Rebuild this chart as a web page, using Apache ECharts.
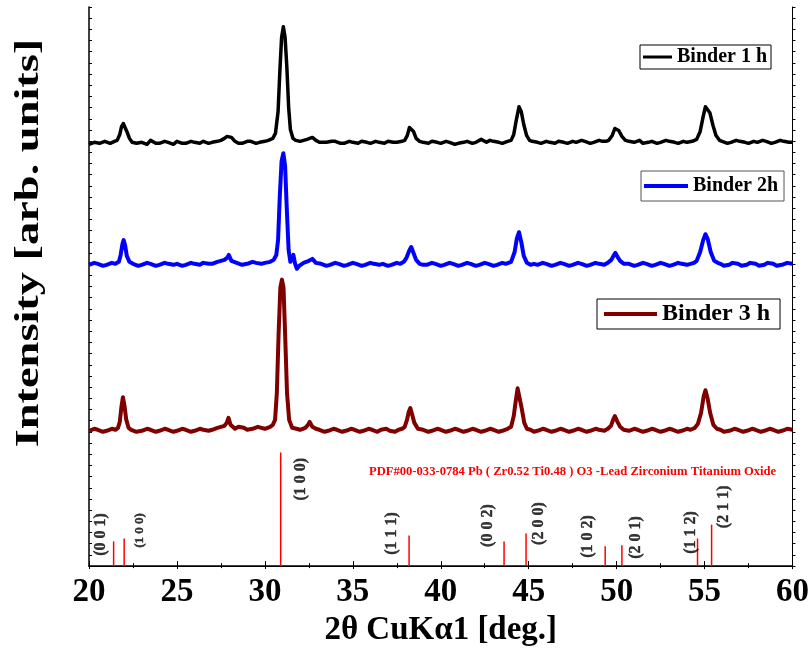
<!DOCTYPE html>
<html><head><meta charset="utf-8">
<script src="https://cdn.jsdelivr.net/npm/echarts@6/dist/echarts.min.js"></script>
<style>html,body{margin:0;padding:0;background:#fff}#c{width:812px;height:652px}</style>
</head><body><div id="c"></div>
<script>
// ---- data (2θ, intensity in arbitrary units with offset baked in) ----
const binder1h = [[20,427],[20.3,429],[20.6,428],[20.9,430],[21.2,428],[21.45,430],[21.6,431],[21.75,437],[21.85,445],[21.95,448],[22.05,446],[22.15,440],[22.3,433],[22.45,429],[22.7,428],[23,429],[23.3,427],[23.5,431],[23.8,428],[24,428],[24.3,430],[24.5,429],[24.8,427],[25,430],[25.3,428],[25.5,428],[25.8,430],[26,429],[26.3,428],[26.5,430],[26.8,428],[27,429],[27.3,430],[27.5,431],[27.7,433],[27.85,435],[27.95,436],[28.1,434],[28.3,430],[28.5,428],[28.7,428],[29,430],[29.2,430],[29.5,428],[29.7,429],[30,430],[30.2,431],[30.45,433],[30.6,438],[30.75,460],[30.85,500],[30.95,535],[31.05,546],[31.15,535],[31.25,505],[31.35,465],[31.45,442],[31.6,433],[31.75,431],[32,430],[32.2,431],[32.4,432],[32.7,434],[32.9,431],[33.1,429],[33.5,429],[33.8,430],[34,430],[34.3,428],[34.5,428],[34.8,430],[35,429],[35.3,428],[35.5,430],[35.8,429],[36,428],[36.3,430],[36.5,429],[36.8,428],[37,430],[37.3,429],[37.5,429],[37.8,430],[37.95,431],[38.1,436],[38.22,444],[38.32,446],[38.45,440],[38.6,433],[38.8,430],[39,429],[39.3,428],[39.5,430],[39.8,429],[40,428],[40.3,430],[40.5,429],[40.8,427],[41,428],[41.3,429],[41.5,430],[41.8,428],[42,429],[42.3,432],[42.6,429],[42.8,431],[43,430],[43.3,429],[43.5,428],[43.8,430],[44,431],[44.15,437],[44.3,452],[44.45,465],[44.58,460],[44.72,447],[44.88,436],[45.05,431],[45.2,430],[45.5,429],[45.7,428],[46,430],[46.2,429],[46.5,428],[46.7,430],[47,429],[47.2,428],[47.5,430],[47.7,429],[48,431],[48.2,430],[48.5,428],[48.7,429],[49,431],[49.2,430],[49.4,430],[49.55,431],[49.75,436],[49.9,443],[50,444],[50.12,441],[50.3,435],[50.5,431],[50.7,430],[51,429],[51.3,431],[51.5,428],[51.8,429],[52,430],[52.3,428],[52.5,429],[52.8,431],[53,430],[53.3,429],[53.5,428],[53.8,430],[54,429],[54.3,430],[54.55,432],[54.75,440],[54.92,455],[55.05,465],[55.15,466],[55.3,459],[55.48,446],[55.65,436],[55.85,431],[56,430],[56.3,428],[56.5,429],[56.8,431],[57,430],[57.3,429],[57.5,428],[57.8,430],[58,429],[58.3,431],[58.5,430],[58.8,428],[59,429],[59.3,431],[59.5,430],[59.8,429],[60,429]];

const binder2h = [[20,305],[20.3,307],[20.5,306],[20.8,304],[21,305],[21.3,307],[21.5,306],[21.7,308],[21.8,315],[21.9,326],[21.97,330],[22.05,325],[22.15,314],[22.3,308],[22.5,306],[22.8,304],[23,305],[23.3,307],[23.5,306],[23.8,304],[24,305],[24.3,307],[24.5,306],[24.8,305],[25,306],[25.3,304],[25.5,305],[25.8,307],[26,306],[26.3,305],[26.5,307],[26.8,306],[27,306],[27.3,308],[27.5,309],[27.7,310],[27.85,312],[27.95,315],[28.1,309],[28.4,307],[28.7,305],[29,306],[29.3,308],[29.5,307],[29.8,306],[30,307],[30.3,308],[30.5,310],[30.65,315],[30.75,330],[30.85,375],[30.95,410],[31.05,418],[31.15,405],[31.25,360],[31.35,320],[31.45,308],[31.55,312],[31.62,315],[31.72,306],[31.82,301],[31.95,304],[32.2,307],[32.5,309],[32.7,311],[32.9,307],[33.2,306],[33.5,304],[33.7,305],[34,307],[34.2,306],[34.5,304],[34.7,305],[35,307],[35.2,306],[35.5,304],[35.7,305],[36,307],[36.2,306],[36.5,305],[36.7,306],[37,304],[37.2,305],[37.5,307],[37.7,306],[37.9,308],[38.05,312],[38.2,319],[38.32,323],[38.45,317],[38.6,310],[38.8,306],[39,305],[39.2,305],[39.5,307],[39.7,306],[40,304],[40.2,305],[40.5,307],[40.7,306],[41,304],[41.2,305],[41.5,307],[41.7,306],[42,304],[42.2,305],[42.5,307],[42.7,306],[43,304],[43.2,305],[43.5,307],[43.7,306],[43.85,307],[44,308],[44.2,318],[44.33,332],[44.45,338],[44.58,328],[44.72,314],[44.9,307],[45.1,305],[45.3,306],[45.5,305],[45.8,307],[46,306],[46.3,304],[46.5,305],[46.8,307],[47,306],[47.3,304],[47.5,305],[47.8,307],[48,306],[48.3,304],[48.5,305],[48.8,307],[49,306],[49.3,305],[49.5,307],[49.7,310],[49.82,314],[49.93,317],[50.05,313],[50.2,309],[50.4,306],[50.7,306],[51,304],[51.2,305],[51.5,307],[51.7,306],[52,304],[52.2,305],[52.5,307],[52.7,306],[53,304],[53.2,305],[53.5,307],[53.7,306],[54,305],[54.2,306],[54.4,307],[54.55,309],[54.75,318],[54.92,330],[55.05,336],[55.18,331],[55.35,318],[55.55,309],[55.75,307],[55.9,306],[56.1,304],[56.4,305],[56.6,307],[56.9,306],[57.1,304],[57.4,305],[57.6,307],[57.9,306],[58.1,304],[58.4,305],[58.6,307],[58.9,306],[59.1,304],[59.4,305],[59.7,307],[60,306]];

const binder3h = [[20,137],[20.3,139],[20.5,138],[20.8,136],[21,137],[21.3,139],[21.5,138],[21.65,140],[21.75,146],[21.85,162],[21.93,171],[22.02,162],[22.12,148],[22.25,140],[22.4,138],[22.7,136],[23,137],[23.3,139],[23.5,138],[23.8,136],[24,137],[24.3,139],[24.5,138],[24.8,136],[25,137],[25.3,139],[25.5,138],[25.8,136],[26,137],[26.3,139],[26.5,138],[26.8,137],[27,138],[27.3,140],[27.5,141],[27.7,142],[27.83,145],[27.93,150],[28.05,143],[28.3,139],[28.5,141],[28.8,140],[29,138],[29.3,139],[29.6,141],[29.8,140],[30,139],[30.3,141],[30.45,143],[30.58,148],[30.68,175],[30.78,235],[30.88,282],[30.97,290],[31.06,282],[31.16,230],[31.26,175],[31.38,148],[31.55,140],[31.8,139],[32,138],[32.3,140],[32.45,143],[32.55,146],[32.7,141],[32.9,139],[33.1,138],[33.4,136],[33.6,137],[33.9,139],[34.1,138],[34.4,136],[34.6,137],[34.9,139],[35.1,138],[35.4,136],[35.6,137],[35.9,139],[36.1,138],[36.4,136],[36.6,138],[36.9,139],[37.1,137],[37.4,136],[37.6,138],[37.8,139],[37.95,141],[38.08,148],[38.18,156],[38.27,160],[38.38,153],[38.5,145],[38.7,139],[39,138],[39.3,136],[39.5,137],[39.8,139],[40,138],[40.3,136],[40.5,137],[40.8,139],[41,138],[41.3,136],[41.5,137],[41.8,139],[42,138],[42.3,136],[42.5,137],[42.8,139],[43,138],[43.3,136],[43.5,137],[43.8,139],[44,141],[44.15,152],[44.27,168],[44.37,180],[44.47,178],[44.6,160],[44.75,145],[44.9,139],[45.1,138],[45.3,136],[45.5,137],[45.8,139],[46,138],[46.3,136],[46.5,137],[46.8,139],[47,138],[47.3,136],[47.5,137],[47.8,139],[48,138],[48.3,136],[48.5,137],[48.8,139],[49,138],[49.3,137],[49.5,139],[49.68,142],[49.8,148],[49.9,152],[50.02,147],[50.2,141],[50.4,138],[50.7,137],[51,139],[51.2,138],[51.5,136],[51.7,137],[52,139],[52.2,138],[52.5,136],[52.7,137],[53,139],[53.2,138],[53.5,136],[53.7,137],[54,139],[54.2,138],[54.45,140],[54.62,144],[54.8,155],[54.95,172],[55.05,178],[55.17,170],[55.32,155],[55.5,143],[55.7,139],[55.9,138],[56.1,136],[56.4,137],[56.7,139],[56.9,138],[57.2,136],[57.4,137],[57.7,139],[57.9,138],[58.2,136],[58.4,137],[58.7,139],[58.9,138],[59.2,136],[59.4,137],[59.7,139],[60,138]];

// reference pattern PDF#00-033-0784
const refPos = [21.4, 22.0, 30.9, 38.2, 43.6, 44.85, 49.35, 50.3, 54.6, 55.4];
const refInt = [25, 28, 115, 31, 25, 33, 20, 21, 28, 42];
const hklText = ['(0 0 1)','(1 0 0)','(1 0 0)','(1 1 1)','(0 0 2)','(2 0 0)','(1 0 2)','(2 0 1)','(1 1 2)','(2 1 1)'];
const hklX = [20.7, 22.86, 32.03, 37.23, 42.67, 45.6, 48.38, 51.1, 54.21, 56.08];
const hklY = [32, 36, 88, 33, 41, 43, 30, 29, 34, 60];
const hklSize = [16, 13, 16, 16, 16, 16, 16, 16, 16, 16];

const xTicks = [20,25,30,35,40,45,50,55,60];
const seriesNames = ['Binder 1 h','Binder 2h','Binder 3 h'];

const F = 'Liberation Serif';
const chart = echarts.init(document.getElementById('c'), null, {renderer:'canvas'});
const common = {fontFamily:F, fontWeight:'bold', color:'#000'};

chart.setOption({
  animation:false,
  backgroundColor:'#fff',
  grid:{left:89, right:19, top:7, bottom:79, show:false},
  xAxis:[{
    type:'value', min:xTicks[0], max:xTicks[xTicks.length-1], interval:5,
    axisLine:{show:true, lineStyle:{color:'#000', width:1.5}},
    axisTick:{show:true, inside:true, length:5, lineStyle:{color:'#000'}},
    minorTick:{show:true, splitNumber:2, length:3, lineStyle:{color:'#000'}},
    splitLine:{show:false},
    axisLabel:{...common, fontSize:33, margin:10},
    name:'2θ CuKα1 [deg.]', nameLocation:'middle', nameGap:44,
    nameTextStyle:{...common, fontSize:33}
  },{
    type:'value', position:'top', min:20, max:60, interval:5,
    axisLine:{show:true, lineStyle:{color:'#000', width:1}},
    axisTick:{show:true, inside:true, length:3, lineStyle:{color:'#000'}},
    minorTick:{show:true, splitNumber:2, length:2, lineStyle:{color:'#000'}},
    splitLine:{show:false}, axisLabel:{show:false}
  }],
  yAxis:[{
    type:'value', min:0, max:566, interval:11.32,
    axisLine:{show:true, lineStyle:{color:'#000', width:1.5}},
    axisTick:{show:true, inside:true, length:3, lineStyle:{color:'#000'}},
    splitLine:{show:false}, axisLabel:{show:false}
  },{
    type:'value', position:'right', min:0, max:566, interval:11.32,
    axisLine:{show:true, onZero:false, lineStyle:{color:'#000', width:1}},
    axisTick:{show:true, inside:false, length:3, lineStyle:{color:'#000'}},
    splitLine:{show:false}, axisLabel:{show:false}
  }],
  legend:[
    {data:[seriesNames[0]], left:640, top:45, orient:'horizontal', borderColor:'#000', borderWidth:1,
     padding:[2,4,2,3], itemWidth:29, itemHeight:3, icon:'rect', textStyle:{...common, fontSize:20}},
    {data:[seriesNames[1]], left:641, top:171, borderColor:'#555', borderWidth:1,
     padding:[5,6,5,3], itemWidth:44, itemHeight:4, icon:'rect', textStyle:{...common, fontSize:20}},
    {data:[seriesNames[2]], left:597, top:299, borderColor:'#000', borderWidth:1,
     padding:[3,10,3,7], itemWidth:53, itemHeight:4, icon:'rect', textStyle:{...common, fontSize:24}}
  ],
  graphic:[
    {type:'text', left:369, top:465, style:{text:'PDF#00-033-0784 Pb ( Zr0.52 Ti0.48 ) O3 -Lead Zirconium Titanium Oxide',
      fill:'#ff0000', font:'bold 12.6px "Liberation Serif"'}},
    {type:'text', x:29, y:243, rotation:Math.PI/2, scaleX:1.45, scaleY:1.05,
      style:{text:'Intensity [arb. units]', fill:'#000', font:'bold 32px "Liberation Serif"', align:'center', verticalAlign:'middle'}}
  ],
  series:[
    {name:seriesNames[0], type:'line', data:binder1h, showSymbol:false, symbol:'none', smooth:false,
     lineStyle:{color:'#000', width:3.5, join:'round'}, itemStyle:{color:'#000'}, z:3},
    {name:seriesNames[1], type:'line', data:binder2h, showSymbol:false, symbol:'none', smooth:false,
     lineStyle:{color:'#0000ff', width:4, join:'round'}, itemStyle:{color:'#0000ff'}, z:3},
    {name:seriesNames[2], type:'line', data:binder3h, showSymbol:false, symbol:'none', smooth:false,
     lineStyle:{color:'#800000', width:4, join:'round'}, itemStyle:{color:'#800000'}, z:3},
    {name:'ref', type:'bar', data:refPos.map((x,i)=>[x, refInt[i]]), barWidth:1.5,
     itemStyle:{color:'#ff0000'}, z:2},
    {name:'hkl', type:'scatter', data:hklX.map((x,i)=>({value:[x, hklY[i]], name:hklText[i],
       label:{fontSize:hklSize[i]}})),
     symbolSize:0, z:4,
     label:{show:true, position:'inside', rotate:90, formatter:p=>p.name, ...common, fontSize:16,
            textBorderColor:'#000', textBorderWidth:0.4}}
  ]
});
</script></body></html>
